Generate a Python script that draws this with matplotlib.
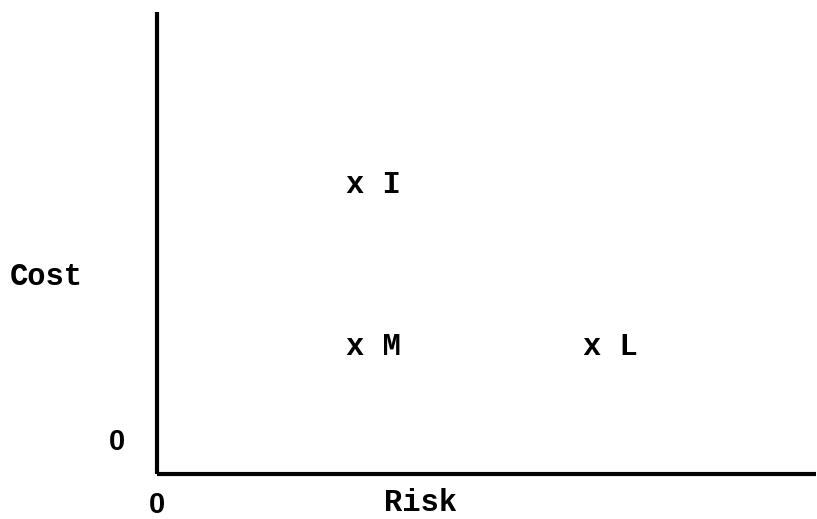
import matplotlib
matplotlib.use("Agg")
import matplotlib.pyplot as plt

# options and their (risk, cost) positions, 0..10 scale
labels = ["I", "M", "L"]
risk = [3.0, 3.0, 6.6]
cost = [6.25, 2.75, 2.75]

mono = "Liberation Mono"
fs = 22

fig = plt.figure(figsize=(8.17, 5.19), dpi=100)
ax = fig.add_axes([157 / 817, 45 / 519, 659 / 817, 462 / 519])
ax.set_xlim(0, 10)
ax.set_ylim(0, 10)

for side in ["top", "right"]:
    ax.spines[side].set_visible(False)
for side in ["left", "bottom"]:
    ax.spines[side].set_linewidth(3)
    ax.spines[side].set_capstyle("butt")
ax.set_xticks([])
ax.set_yticks([])

# each point is an "x" glyph followed by its letter
for lab, x, y in zip(labels, risk, cost):
    ax.annotate(f"x {lab}", (x, y), xytext=(-fs * 0.3, 0), textcoords="offset points",
                ha="left", va="center", fontsize=fs, fontweight="bold", family=mono)

# axis titles and origin labels
fig.text(46 / 817, 1 - 277 / 519, "Cost", ha="center", va="center",
         fontsize=fs, fontweight="bold", family=mono)
fig.text(421 / 817, 1 - 503 / 519, "Risk", ha="center", va="center",
         fontsize=fs, fontweight="bold", family=mono)
fig.text(117 / 817, 1 - 442 / 519, "0", ha="center", va="center",
         fontsize=21, fontweight="bold", family="Liberation Sans")
fig.text(157 / 817, 1 - 505 / 519, "0", ha="center", va="center",
         fontsize=21, fontweight="bold", family="Liberation Sans")

fig.savefig("out.png", dpi=100)
